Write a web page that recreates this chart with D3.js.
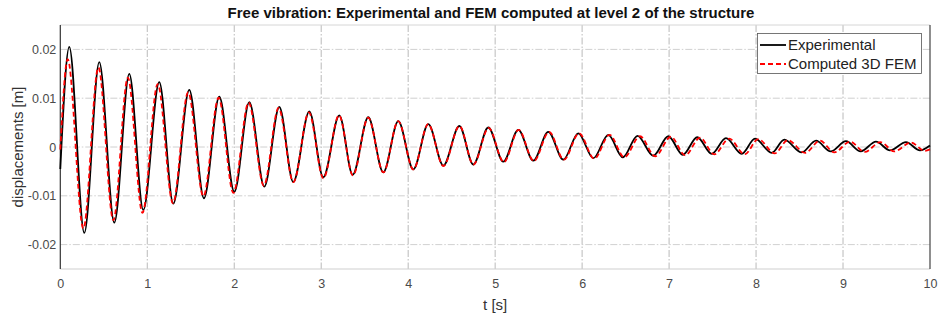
<!DOCTYPE html>
<html>
<head>
<meta charset="utf-8">
<script src="https://cdn.jsdelivr.net/npm/d3@7"></script>
<style>
  body { margin: 0; background: #fff; }
  text { font-family: "Liberation Sans", Arial, sans-serif; }
</style>
</head>
<body>
<div id="chart"></div>
<script>
// values (extrema of each trace, time in s, displacement in m)
let xTicks = [0, 1, 2, 3, 4, 5, 6, 7, 8, 9, 10];
let yTicks = [-0.02, -0.01, 0, 0.01, 0.02];
let yTickLabels = ["-0.02", "-0.01", "0", "0.01", "0.02"];

let expStart = [0, -0.0045];
let expEnd = [10, 0.0003];
let expPeakT = [0.103, 0.448, 0.793, 1.138, 1.483, 1.828, 2.173, 2.518, 2.863, 3.208, 3.541, 3.886, 4.231, 4.588, 4.921,
  5.266, 5.611, 5.956, 6.301, 6.637, 6.991, 7.324, 7.654, 7.988, 8.325, 8.690, 9.034, 9.379, 9.724];
let expPeakV = [0.0205, 0.0174, 0.0150, 0.0133, 0.0117, 0.0103, 0.0092, 0.0082, 0.0073, 0.0065, 0.0061, 0.0053, 0.0047, 0.0043, 0.0040,
  0.0035, 0.0031, 0.0028, 0.0025, 0.0023, 0.0022, 0.0020, 0.0018, 0.0017, 0.0015, 0.0013, 0.0012, 0.0011, 0.0010];
let expTroughT = [0.276, 0.621, 0.954, 1.299, 1.652, 2.001, 2.346, 2.679, 3.024, 3.362, 3.714, 4.059, 4.404, 4.749, 5.094,
  5.439, 5.784, 6.129, 6.467, 6.818, 7.157, 7.490, 7.835, 8.180, 8.525, 8.858, 9.203, 9.540, 9.885];
let expTroughV = [-0.0176, -0.0155, -0.0129, -0.0116, -0.0105, -0.0092, -0.0081, -0.0072, -0.0062, -0.0057, -0.0052, -0.0046, -0.0038, -0.0036, -0.0030,
  -0.0028, -0.0026, -0.0023, -0.0021, -0.0018, -0.0016, -0.0014, -0.0014, -0.0012, -0.0011, -0.0009, -0.0009, -0.0007, -0.0007];

let femStart = [0, -0.0005];
let femEnd = [10, -0.0005];
let femPeakT = [0.085, 0.438, 0.777, 1.120, 1.470, 1.820, 2.165, 2.510, 2.858, 3.205, 3.540, 3.885, 4.230, 4.590, 4.925,
  5.270, 5.620, 5.965, 6.315, 6.665, 7.020, 7.355, 7.690, 8.025, 8.365, 8.735, 9.080, 9.430, 9.780];
let femPeakV = [0.0180, 0.0163, 0.0142, 0.0129, 0.0112, 0.0101, 0.0091, 0.0080, 0.0071, 0.0065, 0.0060, 0.0053, 0.0047, 0.0043, 0.0039,
  0.0035, 0.0031, 0.0028, 0.0025, 0.0022, 0.0021, 0.0019, 0.0017, 0.0016, 0.0014, 0.0013, 0.0011, 0.0010, 0.0009];
let femTroughT = [0.265, 0.610, 0.945, 1.295, 1.645, 1.990, 2.340, 2.680, 3.025, 3.365, 3.715, 4.060, 4.405, 4.750, 5.100,
  5.445, 5.790, 6.140, 6.485, 6.840, 7.185, 7.520, 7.870, 8.215, 8.565, 8.900, 9.250, 9.590, 9.940];
let femTroughV = [-0.0167, -0.0150, -0.0135, -0.0115, -0.0101, -0.0094, -0.0079, -0.0072, -0.0064, -0.0058, -0.0052, -0.0046, -0.0039, -0.0036, -0.0031,
  -0.0029, -0.0026, -0.0024, -0.0021, -0.0019, -0.0017, -0.0015, -0.0015, -0.0013, -0.0012, -0.0011, -0.0010, -0.0009, -0.0008];

let w = 938;
let h = 322;
let pLeft = 60.3, pRight = 930, pTop = 25, pBottom = 269;

function series(start, pT, pV, tT, tV, end) {
  let pts = [start];
  for (let i = 0; i < pT.length; i++) {
    pts.push([pT[i], pV[i]]);
    pts.push([tT[i], tV[i]]);
  }
  pts.push(end);
  return pts;
}
let expData = series(expStart, expPeakT, expPeakV, expTroughT, expTroughV, expEnd);
let femData = series(femStart, femPeakT, femPeakV, femTroughT, femTroughV, femEnd);

let svg = d3.select("#chart")
  .append("svg")
  .attr("width", w)
  .attr("height", h);

let x = d3.scaleLinear().domain([0, 10]).range([pLeft, pRight]);
let y = d3.scaleLinear().domain([-0.025, 0.025]).range([pBottom, pTop]);

// grid
svg.append("g")
  .selectAll("line")
  .data(xTicks.slice(1, -1))
  .join("line")
  .attr("x1", d => x(d)).attr("x2", d => x(d))
  .attr("y1", pTop).attr("y2", pBottom)
  .attr("stroke", "#a8a8a8")
  .attr("stroke-width", 0.8)
  .attr("stroke-dasharray", "7,2,1.5,2");
svg.append("g")
  .selectAll("line")
  .data(yTicks)
  .join("line")
  .attr("x1", pLeft).attr("x2", pRight)
  .attr("y1", d => y(d)).attr("y2", d => y(d))
  .attr("stroke", "#c4c4c4")
  .attr("stroke-width", 0.8)
  .attr("stroke-dasharray", "7,2,1.5,2");

// frame
svg.append("line").attr("x1", pLeft).attr("x2", pRight).attr("y1", pTop).attr("y2", pTop)
  .attr("stroke", "#d6d6d6").attr("stroke-width", 1);
svg.append("line").attr("x1", pLeft).attr("x2", pRight).attr("y1", pBottom).attr("y2", pBottom)
  .attr("stroke", "#cfcfcf").attr("stroke-width", 1.2);
svg.append("line").attr("x1", pLeft).attr("x2", pLeft).attr("y1", pTop).attr("y2", pBottom)
  .attr("stroke", "#333").attr("stroke-width", 1.2);
svg.append("line").attr("x1", pRight).attr("x2", pRight).attr("y1", pTop).attr("y2", pBottom)
  .attr("stroke", "#444").attr("stroke-width", 1.2);

// axes
let xAxis = svg.append("g")
  .attr("transform", "translate(0," + pBottom + ")")
  .call(d3.axisBottom(x).tickValues(xTicks).tickSize(0).tickPadding(10).tickFormat(d3.format("d")));
xAxis.select(".domain").remove();
xAxis.selectAll("text").attr("font-size", 12.5).attr("fill", "#4a4a4a")
  .attr("font-family", "'Liberation Sans', Arial, sans-serif");

let yAxis = svg.append("g")
  .attr("transform", "translate(" + pLeft + ",0)")
  .call(d3.axisLeft(y).tickValues(yTicks).tickSize(0).tickPadding(4).tickFormat((d, i) => yTickLabels[i]));
yAxis.select(".domain").remove();
yAxis.selectAll("text").attr("font-size", 12.5).attr("fill", "#4a4a4a")
  .attr("font-family", "'Liberation Sans', Arial, sans-serif");

// lines
let line = d3.line()
  .x(d => x(d[0]))
  .y(d => y(d[1]))
  .curve(d3.curveMonotoneX);

svg.append("path")
  .datum(expData)
  .attr("d", line)
  .attr("fill", "none")
  .attr("stroke", "#000")
  .attr("stroke-width", 1.8);

svg.append("path")
  .datum(femData)
  .attr("d", line)
  .attr("fill", "none")
  .attr("stroke", "#ff0000")
  .attr("stroke-width", 1.8)
  .attr("stroke-dasharray", "5,3");

// title and labels
svg.append("text")
  .text("Free vibration: Experimental and FEM computed at level 2 of the structure")
  .attr("x", 491)
  .attr("y", 18)
  .attr("text-anchor", "middle")
  .attr("font-size", 15)
  .attr("font-weight", "bold")
  .attr("fill", "#111");

svg.append("text")
  .text("t [s]")
  .attr("x", (pLeft + pRight) / 2)
  .attr("y", 310)
  .attr("text-anchor", "middle")
  .attr("font-size", 15)
  .attr("fill", "#333");

svg.append("text")
  .text("displacements [m]")
  .attr("transform", "translate(23," + y(0) + ") rotate(-90)")
  .attr("text-anchor", "middle")
  .attr("font-size", 15)
  .attr("fill", "#333");

// legend
let legend = svg.append("g");
legend.append("rect")
  .attr("x", 757.5).attr("y", 33.5)
  .attr("width", 164).attr("height", 40)
  .attr("fill", "#fff")
  .attr("stroke", "#555")
  .attr("stroke-width", 0.8);
legend.append("line")
  .attr("x1", 760).attr("x2", 786).attr("y1", 45).attr("y2", 45)
  .attr("stroke", "#000").attr("stroke-width", 1.8);
legend.append("line")
  .attr("x1", 760).attr("x2", 786).attr("y1", 64).attr("y2", 64)
  .attr("stroke", "#ff0000").attr("stroke-width", 1.8).attr("stroke-dasharray", "5,3");
legend.append("text").text("Experimental")
  .attr("x", 788).attr("y", 50).attr("font-size", 15).attr("fill", "#222");
legend.append("text").text("Computed 3D FEM")
  .attr("x", 788).attr("y", 69).attr("font-size", 15).attr("fill", "#222");
</script>
</body>
</html>
